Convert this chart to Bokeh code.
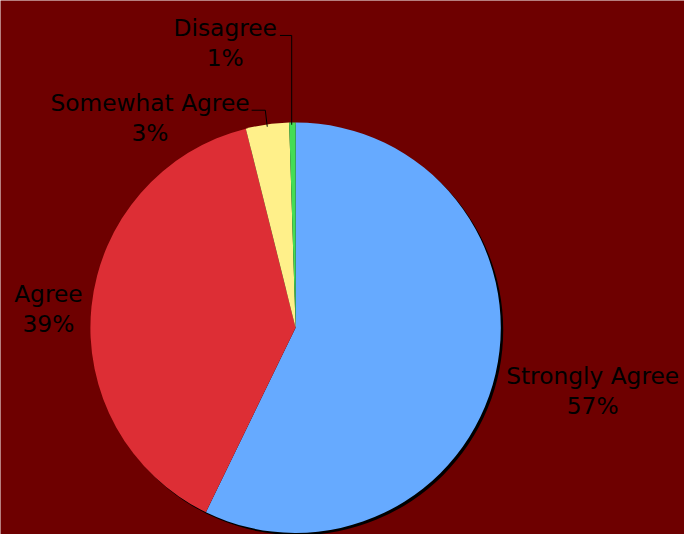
import numpy as np
from bokeh.plotting import figure
from bokeh.models import Range1d, ColumnDataSource
from bokeh.core.properties import value
from bokeh.embed import file_html
from bokeh.resources import INLINE

# ---- data ----
categories = ["Strongly Agree", "Agree", "Somewhat Agree", "Disagree"]
shares = [57.2, 38.9, 3.4, 0.5]
pct_labels = ["57%", "39%", "3%", "1%"]
colors = ["#66aaff", "#dd2e35", "#fff08a", "#44dd55"]

# ---- layout (reference pixel coords; y measured from top) ----
W, H = 684, 534
BG = "#6e0000"
CX, CY, R = 302, 337, 210
label_x = [606, 49, 153, 230]
label_base1 = [386, 302, 105, 28]
line_gap = 31
leaders = [None, None,
           ([257, 271, 273], [113, 113, 130]),
           ([286, 298, 298], [36, 36, 128])]


def fy(py):
    return 550 - py


p = figure(width=W, height=H, x_range=Range1d(0, 700), y_range=Range1d(0, 550),
           output_backend="svg", toolbar_location=None, min_border=0)
p.background_fill_color = BG
p.border_fill_color = BG
p.outline_line_color = None
p.xaxis.visible = False
p.yaxis.visible = False
p.xgrid.visible = False
p.ygrid.visible = False

fr = np.array(shares) / np.sum(shares)
ends = np.cumsum(fr)
starts = ends - fr
start_ang = np.pi / 2 - starts * 2 * np.pi
end_ang = np.pi / 2 - ends * 2 * np.pi

# shadow
p.circle(x=[CX + 2.5], y=[fy(CY + 2.5)], radius=R, fill_color="black", line_color=None)

src = ColumnDataSource(dict(cat=categories, start=start_ang, end=end_ang, color=colors))
p.wedge(x=CX, y=fy(CY), radius=R, start_angle="start", end_angle="end", direction="clock",
        fill_color="color", line_color=None, source=src)

for i, cat in enumerate(categories):
    p.text(x=[label_x[i]], y=[fy(label_base1[i])], text=[cat], text_align="center",
           text_baseline="alphabetic", text_font=value("DejaVu Sans"), text_font_size="23.3px",
           text_color="black")
    p.text(x=[label_x[i]], y=[fy(label_base1[i] + line_gap)], text=[pct_labels[i]], text_align="center",
           text_baseline="alphabetic", text_font=value("DejaVu Sans"), text_font_size="23.3px",
           text_color="black")
    if leaders[i] is not None:
        lx, ly = leaders[i]
        p.line(x=lx, y=[fy(v) for v in ly], line_color="black", line_width=1)

open("out.html", "w").write(file_html(p, INLINE))
